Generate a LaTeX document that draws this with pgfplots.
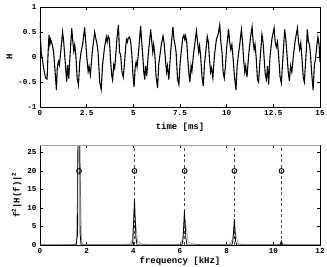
\documentclass[border=0pt]{standalone}
\usepackage{fontspec}
\setmainfont{Liberation Mono}
\usepackage{pgfplots}
\pgfplotsset{compat=1.18}

\pgfplotsset{
  matlab/.style={
    scale only axis,
    width=280bp, height=100bp,
    tick align=inside,
    tick pos=both,
    major tick length=3bp,
    axis line style={line width=0.5pt},
    tick style={line width=0.4pt, black},
    tick label style={font=\bfseries\fontsize{7.6}{8}\selectfont},
    label style={font=\bfseries\fontsize{9}{10}\selectfont},
    xlabel style={yshift=4bp},
    ylabel style={yshift=-1bp},
  },
}

\begin{document}
\begin{tikzpicture}
\useasboundingbox (-40bp,-22bp) rectangle (287bp,245bp);

% time signal
\begin{axis}[matlab,
  at={(0,138bp)},
  xmin=0, xmax=15, ymin=-1, ymax=1,
  xtick={0,2.5,5,7.5,10,12.5,15},
  xticklabels={0,2.5,5,7.5,10,12.5,15},
  ytick={-1,-0.5,0,0.5,1},
  yticklabels={-1,-0.5,0,0.5,1},
  xlabel={time [ms]},
  xlabel style={yshift=-5bp},
  ylabel={H},
]
\addplot[black, line width=1.1pt] coordinates {
(0.00,0.70) (0.03,0.35) (0.07,0.07) (0.12,-0.03) (0.21,-0.26) (0.30,-0.42)
(0.38,-0.44) (0.43,0.05) (0.48,0.44) (0.53,0.25) (0.57,0.35) (0.61,0.30)
(0.66,0.24) (0.73,0.10) (0.80,-0.25) (0.88,-0.66) (0.93,-0.19) (0.99,-0.09)
(1.04,-0.16) (1.11,0.10) (1.21,0.50) (1.27,0.30) (1.33,0.00) (1.38,-0.25)
(1.43,-0.49) (1.48,-0.16) (1.54,-0.43) (1.61,0.04) (1.70,0.57) (1.76,0.30)
(1.81,0.12) (1.86,0.24) (1.92,0.04) (1.99,-0.43) (2.06,-0.56) (2.13,-0.10)
(2.20,0.10) (2.28,0.24) (2.39,0.59) (2.45,0.30) (2.52,-0.06) (2.58,-0.29)
(2.63,-0.19) (2.70,-0.36) (2.80,0.10) (2.93,0.50) (2.99,0.37) (3.05,0.27)
(3.11,0.10) (3.20,-0.50) (3.28,-0.65) (3.35,-0.16) (3.45,0.17) (3.55,0.40)
(3.60,0.30) (3.65,0.42) (3.71,0.37) (3.78,-0.06) (3.84,-0.36) (3.89,-0.46)
(3.95,-0.16) (4.00,-0.23) (4.07,0.10) (4.13,0.40) (4.20,0.64) (4.26,0.10)
(4.32,0.04) (4.39,-0.29) (4.46,-0.40) (4.52,-0.16) (4.58,0.15) (4.63,0.35)
(4.68,0.30) (4.73,0.38) (4.80,0.40) (4.86,0.30) (4.92,0.05) (4.98,-0.35)
(5.04,-0.60) (5.10,-0.20) (5.15,-0.10) (5.20,-0.20) (5.28,0.10) (5.39,0.62)
(5.45,0.30) (5.51,0.00) (5.56,-0.30) (5.61,-0.45) (5.66,-0.18) (5.72,-0.38)
(5.80,0.05) (5.93,0.55) (5.99,0.30) (6.04,0.10) (6.09,0.25) (6.15,0.05)
(6.22,-0.40) (6.30,-0.62) (6.36,-0.15) (6.43,0.05) (6.50,0.25) (6.59,0.42)
(6.65,0.28) (6.72,-0.05) (6.78,-0.30) (6.83,-0.18) (6.90,-0.45) (7.00,0.10)
(7.12,0.60) (7.18,0.35) (7.23,0.25) (7.29,0.10) (7.37,-0.45) (7.44,-0.55)
(7.50,-0.15) (7.58,0.15) (7.65,0.38) (7.71,0.44) (7.76,0.35) (7.80,0.42)
(7.86,0.30) (7.92,-0.05) (7.98,-0.35) (8.03,-0.50) (8.09,-0.18) (8.14,-0.28)
(8.22,0.05) (8.38,0.52) (8.44,0.30) (8.50,0.10) (8.55,0.22) (8.61,0.00)
(8.68,-0.40) (8.75,-0.58) (8.81,-0.15) (8.88,0.10) (8.96,0.41) (9.02,0.30)
(9.08,-0.05) (9.14,-0.30) (9.19,-0.22) (9.26,-0.42) (9.35,0.05) (9.45,0.35)
(9.54,0.45) (9.63,0.64) (9.69,0.30) (9.75,0.10) (9.81,-0.30) (9.87,-0.42)
(9.93,-0.20) (9.99,0.15) (10.10,0.56) (10.16,0.30) (10.22,0.15) (10.28,0.25)
(10.35,-0.05) (10.42,-0.40) (10.50,-0.66) (10.56,-0.18) (10.63,0.05) (10.70,0.25)
(10.79,0.55) (10.85,0.30) (10.91,-0.05) (10.97,-0.30) (11.02,-0.18) (11.09,-0.40)
(11.18,0.05) (11.28,0.40) (11.36,0.60) (11.42,0.30) (11.47,0.15) (11.52,0.25)
(11.58,0.00) (11.65,-0.45) (11.71,-0.50) (11.77,-0.15) (11.83,0.15) (11.89,0.45)
(11.95,0.30) (12.01,-0.05) (12.07,-0.35) (12.13,-0.45) (12.19,-0.18) (12.25,-0.55)
(12.32,0.00) (12.42,0.35) (12.54,0.58) (12.60,0.30) (12.66,0.20) (12.72,0.30)
(12.78,0.05) (12.86,-0.40) (12.93,-0.52) (12.99,-0.15) (13.05,0.20) (13.11,0.55)
(13.17,0.35) (13.23,0.05) (13.30,-0.30) (13.36,-0.48) (13.42,-0.18) (13.49,-0.30)
(13.58,0.05) (13.68,0.35) (13.79,0.58) (13.85,0.30) (13.91,0.15) (13.97,0.28)
(14.03,0.00) (14.10,-0.40) (14.16,-0.50) (14.22,-0.15) (14.27,0.15) (14.32,0.55)
(14.38,0.30) (14.44,0.25) (14.50,0.00) (14.56,-0.35) (14.63,-0.66) (14.70,-0.15)
(14.76,-0.05) (14.82,0.20) (14.89,0.40) (14.95,0.25) (15.00,-0.10)
};
\end{axis}

% weighted spectrum
\begin{axis}[matlab,
  at={(0,0)},
  xmin=0, xmax=12, ymin=0, ymax=27,
  xtick={0,2,4,6,8,10,12},
  xticklabels={0,2,4,6,8,10,12},
  ytick={0,5,10,15,20,25},
  yticklabels={0,5,10,15,20,25},
  xlabel={frequency [kHz]},
  ylabel={f\textsuperscript{2}|H(f)|\textsuperscript{2}},
]
% harmonic positions
\addplot[gray!60!black, dash pattern=on 3bp off 2.5bp, line width=0.4pt, forget plot] coordinates {(4.05,0) (4.05,27)};
\addplot[gray!60!black, dash pattern=on 3bp off 2.5bp, line width=0.4pt, forget plot] coordinates {(6.20,0) (6.20,27)};
\addplot[gray!60!black, dash pattern=on 3bp off 2.5bp, line width=0.4pt, forget plot] coordinates {(8.33,0) (8.33,27)};
\addplot[gray!60!black, dash pattern=on 3bp off 2.5bp, line width=0.4pt, forget plot] coordinates {(10.35,0) (10.35,27)};
% gray curve
\addplot[gray!70, line width=0.8pt] coordinates {
(0,0) (1.45,0.05) (1.56,0.6) (1.62,20) (1.67,60) (1.72,20) (1.78,0.6) (1.9,0.05)
(3.60,0.05) (3.85,0.3) (3.96,1.5) (4.03,9.5) (4.10,6.0) (4.18,1.0) (4.35,0.3) (4.60,0.05)
(5.80,0.05) (6.02,0.3) (6.12,2.0) (6.20,7.5) (6.27,4.5) (6.35,0.8) (6.55,0.3) (6.90,0.05)
(7.95,0.05) (8.15,0.3) (8.26,1.8) (8.33,5.5) (8.40,2.5) (8.50,0.3) (8.70,0.05)
(10.15,0.05) (10.30,0.3) (10.36,0.8) (10.42,0.2) (10.60,0.0) (12,0)
};
% black curve
\addplot[black, line width=0.8pt] coordinates {
(0,0) (1.55,0) (1.61,3) (1.665,90) (1.72,3) (1.76,0)
(3.93,0) (3.98,1.0) (4.05,12.3) (4.11,2.0) (4.16,0)
(6.08,0) (6.13,1.5) (6.19,9.2) (6.25,2.0) (6.30,0)
(8.22,0) (8.27,1.2) (8.33,7.0) (8.38,1.2) (8.43,0)
(10.29,0) (10.34,1.0) (10.39,0) (12,0)
};
% harmonic markers
\addplot[only marks, mark=o, mark size=2.4bp, black, line width=0.9pt] coordinates {
(1.67,20) (4.05,20) (6.20,20) (8.33,20) (10.35,20)
};
% top edge band
\addplot[gray!70, line width=2.6pt] coordinates {(0,27) (12,27)};
\end{axis}
\end{tikzpicture}
\end{document}
